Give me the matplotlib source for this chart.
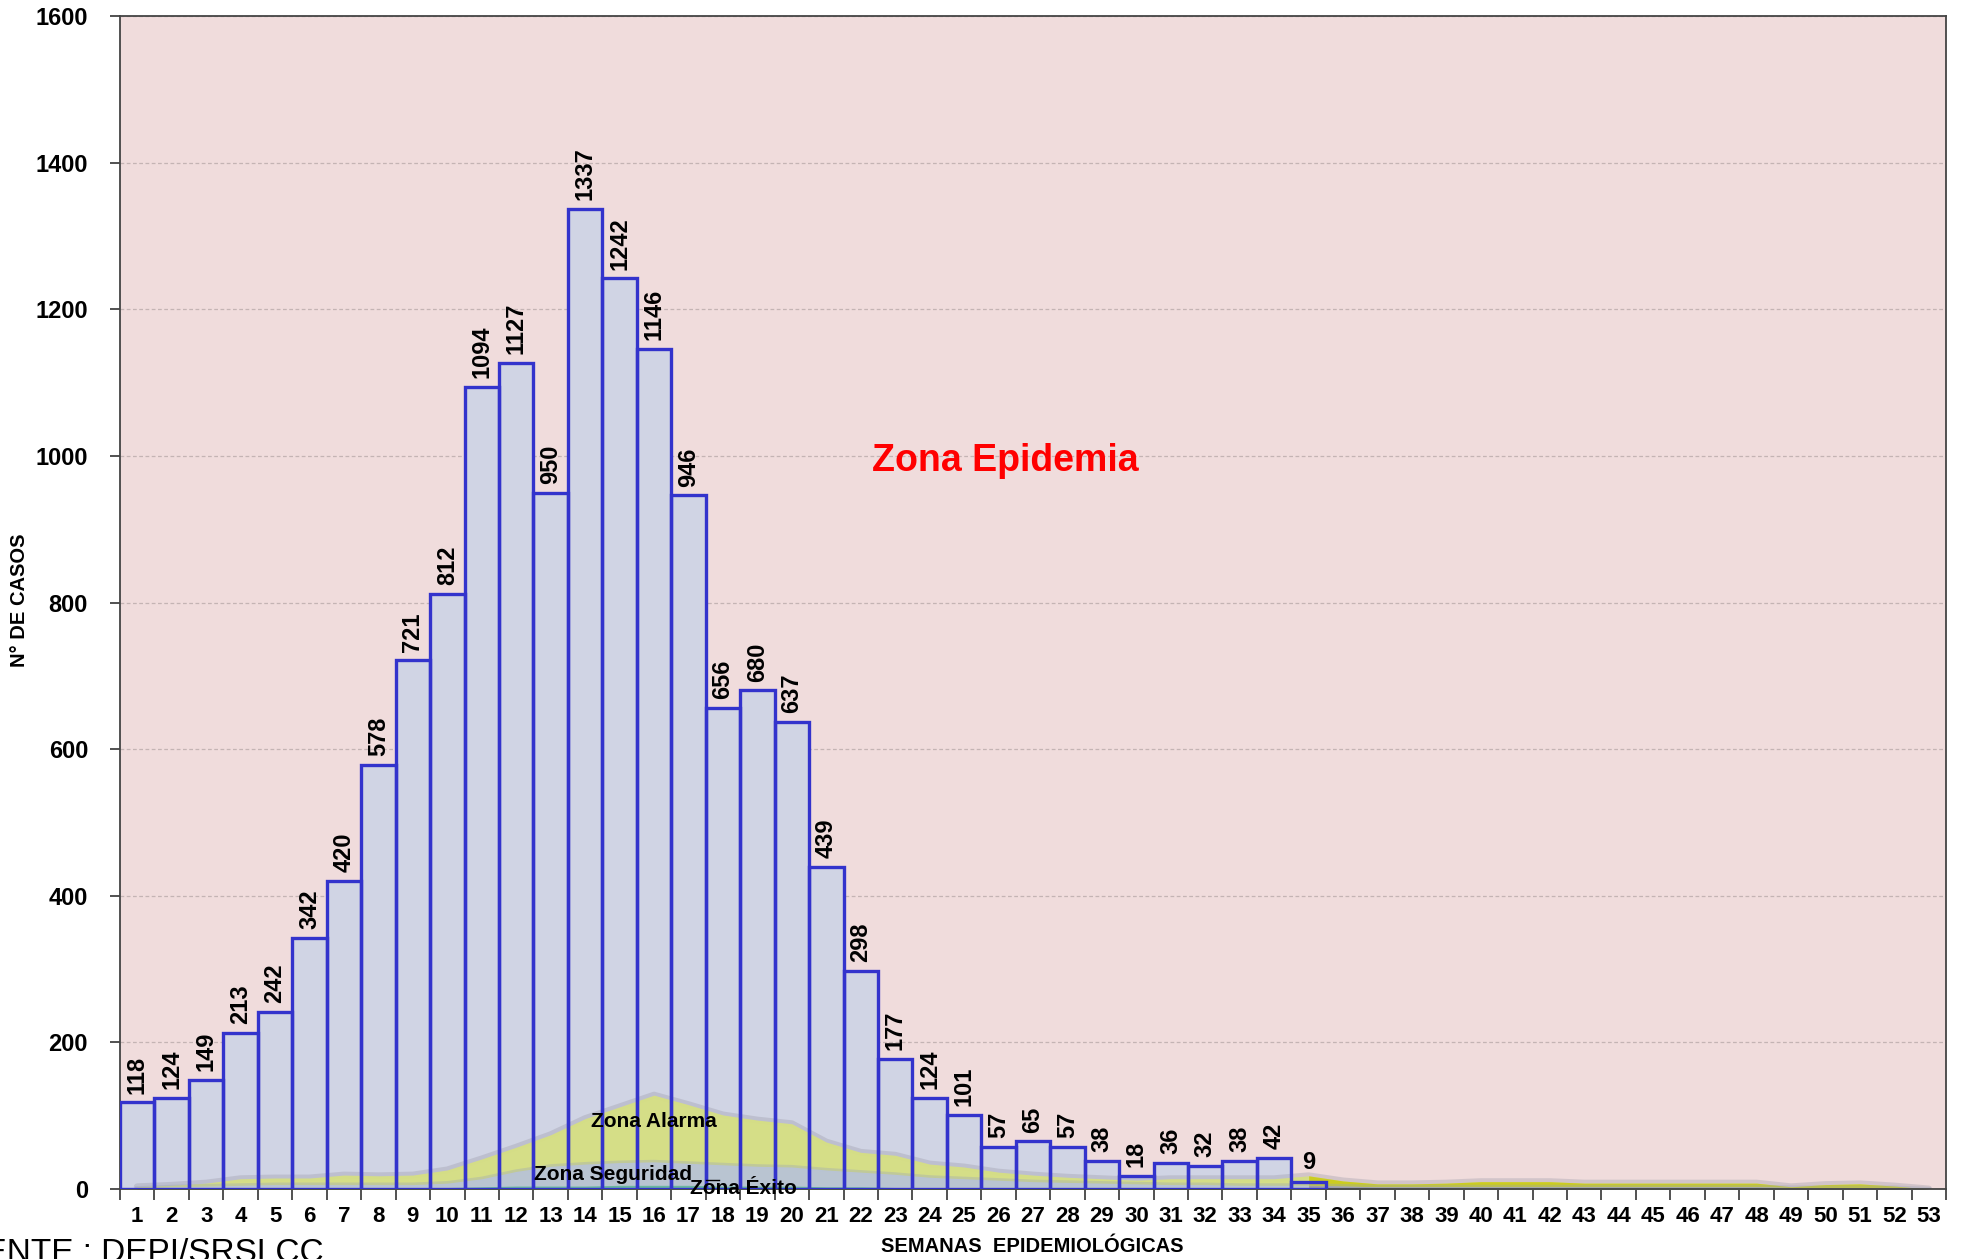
import matplotlib
matplotlib.use("Agg")
import matplotlib.pyplot as plt
import numpy as np

weeks = list(range(1, 54))
cases = [118, 124, 149, 213, 242, 342, 420, 578, 721, 812, 1094, 1127, 950, 1337,
         1242, 1146, 946, 656, 680, 637, 439, 298, 177, 124, 101, 57, 65, 57, 38,
         18, 36, 32, 38, 42, 9]
zona_alarma = [3, 5, 8, 14, 15, 15, 19, 18, 19, 26, 41, 57, 74, 96, 112, 128, 115,
               101, 94, 89, 64, 50, 46, 34, 30, 23, 19, 16, 14, 12, 14, 14, 14, 14,
               18, 11, 7, 7, 8, 10, 10, 10, 8, 8, 8, 8, 8, 8, 3, 6, 7, 4, 0]
zona_seguridad = [1, 3, 4, 5, 6, 6, 6, 6, 6, 8, 14, 24, 31, 34, 36, 37, 35, 33, 31,
                  30, 26, 23, 20, 16, 14, 12, 10, 9, 8, 7, 6, 6, 5, 5, 5, 4, 3, 3, 3,
                  3, 3, 3, 3, 3, 3, 3, 3, 3, 2, 2, 2, 2, 0]
zona_exito = [0, 0, 1, 1, 1, 1, 1, 1, 1, 2, 3, 4, 4, 4, 5, 5, 5, 4, 4, 4, 3, 3, 2, 2,
              2, 2, 1, 1, 1, 1, 1, 1, 1, 1, 1, 1, 1, 1, 1, 1, 1, 1, 1, 1, 1, 1, 1, 1,
              1, 1, 1, 1, 0]
yticks = [0, 200, 400, 600, 800, 1000, 1200, 1400, 1600]

arial = ["Liberation Sans", "DejaVu Sans"]

fig = plt.figure(figsize=(19.68, 12.59), dpi=100)
ax = fig.add_axes([120/1968, 1 - 1189/1259, (1946-120)/1968, (1189-16)/1259])
ax.set_facecolor("#F0DCDC")

x = np.array(weeks)
xb = np.arange(1, len(cases) + 1)
nb = len(cases)

# bar fills
ax.bar(xb, cases, width=1.0, color="#D0D4E4", edgecolor="none", zorder=2)

# zones
ax.plot(x, zona_alarma, color="#9A9AA8", alpha=0.35, lw=5, zorder=2.9,
        solid_capstyle="round")
ax.fill_between(x, 0, zona_alarma, color="#D6DF82", alpha=0.95, zorder=3, lw=0)
# beyond the bars the alarm band shows a stronger yellow
xa = x[nb - 1:]
ya = np.array(zona_alarma[nb - 1:])
ax.fill_between(xa, 0, ya, color="#CACA10", alpha=0.85, zorder=3.05, lw=0)
ax.plot(x, zona_seguridad, color="#9AA2B8", alpha=0.35, lw=3, zorder=3.1)
ax.fill_between(x, 0, zona_seguridad, color="#B8C3D6", alpha=0.95, zorder=3.2, lw=0)
ax.fill_between(xa, 0, np.array(zona_seguridad[nb - 1:]), color="#9A9AA8",
                alpha=0.9, zorder=3.25, lw=0)
ax.fill_between(x, 0, zona_exito, color="#5FB59A", alpha=0.9, zorder=3.4, lw=0)

# bar outlines
ax.bar(xb, cases, width=1.0, facecolor="none", edgecolor="#3333CC", linewidth=2.4, zorder=4)

# value labels
for xi, v in zip(xb, cases):
    rot = 90 if v >= 10 else 0
    ax.text(xi, v + 12, str(v), rotation=rot, ha="center", va="bottom",
            fontsize=17, fontweight="bold", family=arial, zorder=5)

# zone labels
ax.text(26.2, 993, "Zona Epidemia", color="#FF0000", fontsize=27, fontweight="bold",
        family=arial, ha="center", va="center", zorder=6)
ax.text(16.0, 92, "Zona Alarma", color="black", fontsize=15, fontweight="bold",
        family=arial, ha="center", va="center", zorder=6)
ax.text(14.8, 20, "Zona Seguridad", color="black", fontsize=15, fontweight="bold",
        family=arial, ha="center", va="center", zorder=6)
ax.plot([17.5, 17.9], [12, 12], color="black", lw=1, zorder=6)
ax.text(18.6, 1, "Zona Éxito", color="black", fontsize=15, fontweight="bold",
        family=arial, ha="center", va="center", zorder=6)

ax.set_xlim(0.5, 53.5)
ax.set_ylim(0, 1600)
ax.set_yticks(yticks)
ax.set_yticklabels([str(t) for t in yticks], fontsize=17, fontweight="bold", family=arial)
ax.tick_params(axis="y", length=7, width=1.2, color="#333333", pad=16)

ax.set_xticks(np.arange(0.5, 54, 1.0))
ax.set_xticklabels([])
ax.tick_params(axis="x", which="major", length=8, width=1.2, color="#333333", direction="out")
ax.set_xticks(x, minor=True)
ax.set_xticklabels([str(w) for w in weeks], minor=True, fontsize=16, fontweight="bold",
                   family=arial)
ax.tick_params(axis="x", which="minor", length=0, pad=12)

ax.yaxis.grid(True, linestyle=(0, (3, 2)), color="#C4B4B4", lw=0.9, zorder=1)
ax.set_axisbelow(True)

for s in ["left", "top", "right", "bottom"]:
    ax.spines[s].set_color("#444444")
    ax.spines[s].set_linewidth(1.3)
ax.spines["bottom"].set_zorder(3.5)

fig.text(20/1968, 1 - 600/1259, "N° DE CASOS", rotation=90, fontsize=14.5,
         fontweight="bold", family=arial, ha="center", va="center")
fig.text(1032/1968, 1 - 1247/1259, "SEMANAS  EPIDEMIOLÓGICAS", fontsize=14.5,
         fontweight="bold", family=arial, ha="center", va="center")
fig.text(324/1968, 1 - 1238/1259, "FUENTE : DEPI/SRSLCC", fontsize=24,
         family=arial, ha="right", va="top")

fig.savefig("out.png", dpi=100)
